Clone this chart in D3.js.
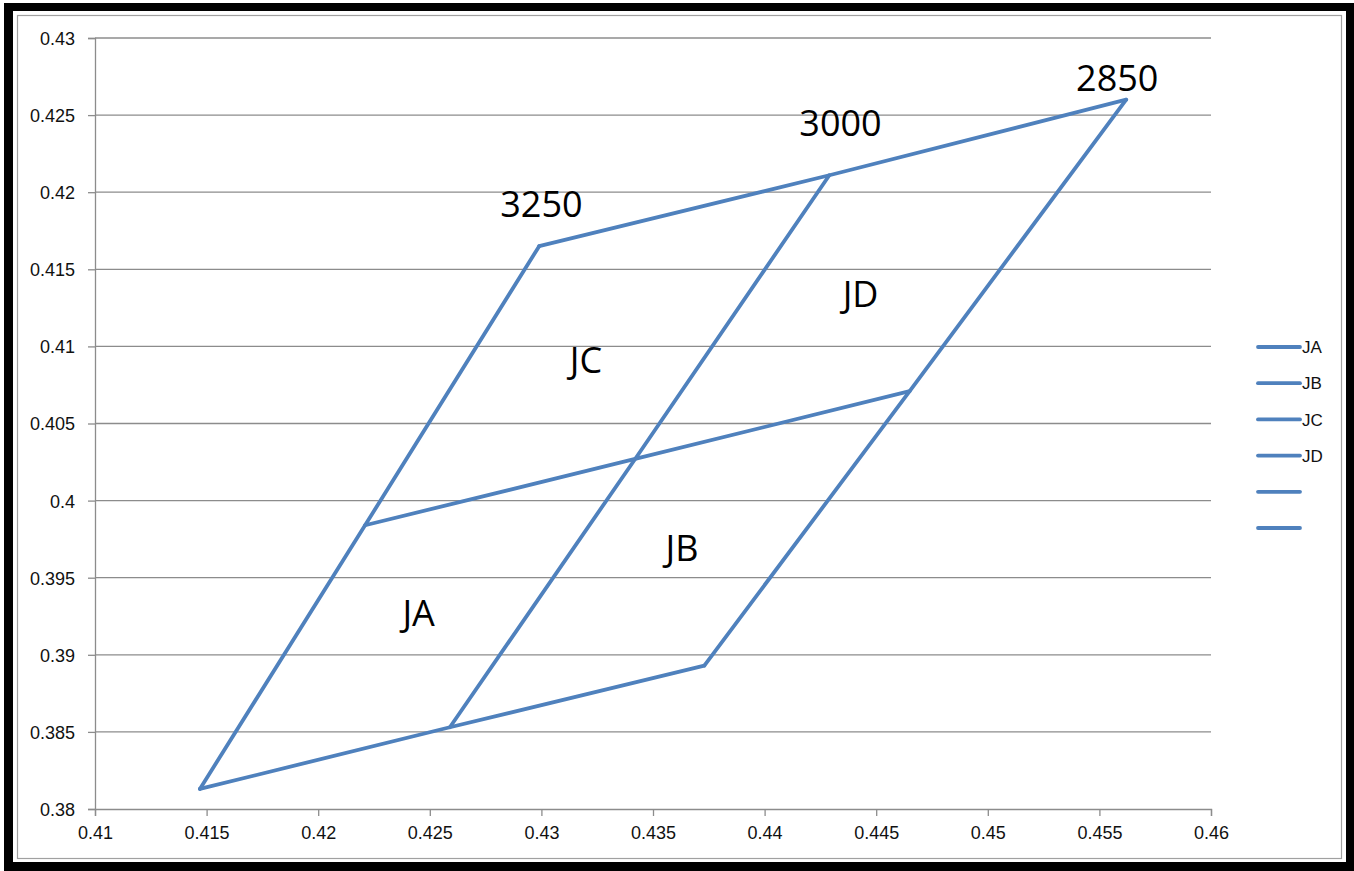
<!DOCTYPE html>
<html>
<head>
<meta charset="utf-8">
<script src="https://cdn.jsdelivr.net/npm/d3@7"></script>
<style>
  body { margin: 0; background: #fff; }
  svg { display: block; }
  .tick text { font-family: "Liberation Sans", Arial, sans-serif; font-size: 18px; fill: #111; }
  .note { font-family: "Open Sans", "Noto Sans", sans-serif; font-size: 36px; fill: #000; }
  .legendText { font-family: "Liberation Sans", Arial, sans-serif; font-size: 17px; fill: #111; }
</style>
</head>
<body>
<div id="chart"></div>
<script>
// the grid corner points
var seriesNames = ['JA', 'JB', 'JC', 'JD', '', ''];

var jaX = [0.4147, 0.4221, 0.4299];
var jaY = [0.3813, 0.3984, 0.4165];
var jbX = [0.4259, 0.4342, 0.4429];
var jbY = [0.3853, 0.4027, 0.4211];
var jcX = [0.4373, 0.4465, 0.4562];
var jcY = [0.3893, 0.4071, 0.4260];
var jdX = [0.4147, 0.4259, 0.4373];
var jdY = [0.3813, 0.3853, 0.3893];
var s5X = [0.4221, 0.4342, 0.4465];
var s5Y = [0.3984, 0.4027, 0.4071];
var s6X = [0.4299, 0.4429, 0.4562];
var s6Y = [0.4165, 0.4211, 0.4260];

var xTicks = [0.41, 0.415, 0.42, 0.425, 0.43, 0.435, 0.44, 0.445, 0.45, 0.455, 0.46];
var yTicks = [0.38, 0.385, 0.39, 0.395, 0.4, 0.405, 0.41, 0.415, 0.42, 0.425, 0.43];

// text boxes placed on the chart
var noteText = ['3250', '3000', '2850', 'JC', 'JD', 'JB', 'JA'];
var noteX = [0.4300, 0.4434, 0.4558, 0.4320, 0.4443, 0.4363, 0.4245];
var noteY = [0.4192, 0.4245, 0.4274, 0.4091, 0.4134, 0.3969, 0.3927];

var allX = [jaX, jbX, jcX, jdX, s5X, s6X];
var allY = [jaY, jbY, jcY, jdY, s5Y, s6Y];

var svgWidth = 1354;
var svgHeight = 871;

var margin = { top: 38, bottom: 62, left: 95, right: 143 };
var width = svgWidth - margin.left - margin.right;
var height = svgHeight - margin.top - margin.bottom;

var svg = d3.select('#chart')
    .append('svg')
    .attr('width', svgWidth)
    .attr('height', svgHeight);

// frame: black border, white chart area, thin grey edge
svg.append('rect')
    .attr('x', 4).attr('y', 3)
    .attr('width', 1350).attr('height', 868)
    .attr('fill', '#000');
svg.append('rect')
    .attr('x', 13).attr('y', 11)
    .attr('width', 1333).attr('height', 851)
    .attr('fill', '#fff');
svg.append('rect')
    .attr('x', 17.5).attr('y', 15.5)
    .attr('width', 1324).attr('height', 843)
    .attr('fill', 'none')
    .attr('stroke', '#a0a0a0')
    .attr('stroke-width', 1.2);

var chartGroup = svg.append('g')
    .attr('transform', `translate(${margin.left}, ${margin.top})`);

var xScale = d3.scaleLinear()
    .domain([0.41, 0.46])
    .range([0, width]);

var yScale = d3.scaleLinear()
    .domain([0.38, 0.43])
    .range([height, 0]);

// horizontal gridlines
chartGroup.append('g')
    .selectAll('line')
    .data(yTicks.slice(1))
    .enter()
    .append('line')
    .attr('x1', 0)
    .attr('x2', width)
    .attr('y1', d => yScale(d))
    .attr('y2', d => yScale(d))
    .attr('stroke', '#8c8c8c')
    .attr('stroke-width', 1.3);

var bottomAxis = d3.axisBottom(xScale)
    .tickValues(xTicks)
    .tickFormat(d => String(+d.toFixed(3)))
    .tickSizeOuter(0)
    .tickSize(7)
    .tickPadding(10);
var leftAxis = d3.axisLeft(yScale)
    .tickValues(yTicks)
    .tickFormat(d => String(+d.toFixed(3)))
    .tickSizeOuter(0)
    .tickSize(7)
    .tickPadding(13);

var xAxisG = chartGroup.append('g')
    .attr('transform', `translate(0, ${height})`)
    .call(bottomAxis);
var yAxisG = chartGroup.append('g')
    .call(leftAxis);

[xAxisG, yAxisG].forEach(function(g) {
    g.select('.domain').attr('stroke', '#8c8c8c').attr('stroke-width', 1.3);
    g.selectAll('.tick line').attr('stroke', '#8c8c8c').attr('stroke-width', 1.3);
});
yAxisG.selectAll('.tick text').attr('dy', '0.36em');

var line = d3.line()
    .x(d => xScale(d[0]))
    .y(d => yScale(d[1]));

allX.forEach(function(xs, i) {
    var pts = xs.map((x, j) => [x, allY[i][j]]);
    chartGroup.append('path')
        .datum(pts)
        .attr('d', line)
        .attr('fill', 'none')
        .attr('stroke', '#4f81bd')
        .attr('stroke-width', 3.8)
        .attr('stroke-linejoin', 'round')
        .attr('stroke-linecap', 'round');
});

chartGroup.selectAll('.note')
    .data(noteText)
    .enter()
    .append('text')
    .attr('class', 'note')
    .attr('x', (d, i) => xScale(noteX[i]))
    .attr('y', (d, i) => yScale(noteY[i]))
    .attr('text-anchor', 'middle')
    .attr('dy', '0.36em')
    .text(d => d);

// legend
var legend = svg.append('g')
    .attr('transform', 'translate(1258, 347)');

seriesNames.forEach(function(name, i) {
    legend.append('line')
        .attr('x1', 0).attr('x2', 42)
        .attr('y1', i * 36.2).attr('y2', i * 36.2)
        .attr('stroke', '#4f81bd')
        .attr('stroke-width', 3.8)
        .attr('stroke-linecap', 'round');
    legend.append('text')
        .attr('class', 'legendText')
        .attr('x', 44)
        .attr('y', i * 36.2)
        .attr('dy', '0.36em')
        .text(name);
});
</script>
</body>
</html>
